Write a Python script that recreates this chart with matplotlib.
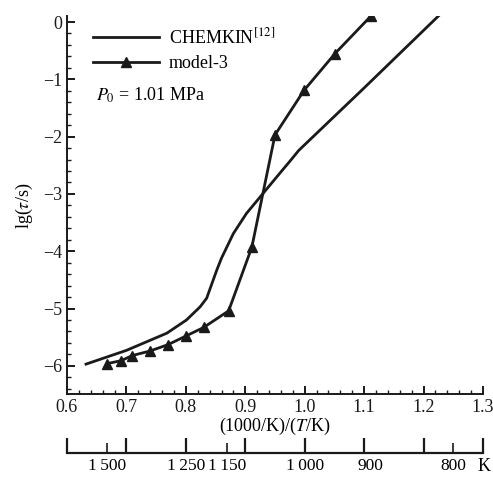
import numpy as np
import matplotlib.pyplot as plt
from matplotlib.ticker import MultipleLocator

plt.rcParams['font.family'] = ['Liberation Serif', 'DejaVu Serif']
plt.rcParams['mathtext.fontset'] = 'stix'

# CHEMKIN reference curve
chem_x = [0.632, 0.70, 0.768, 0.801, 0.824, 0.835, 0.852, 0.860, 0.880, 0.902, 0.930, 0.958, 0.975, 0.99, 1.10, 1.225]
chem_y = [-5.97, -5.73, -5.43, -5.20, -4.97, -4.82, -4.33, -4.12, -3.69, -3.34, -2.99, -2.64, -2.43, -2.24, -1.15, 0.105]

# model-3
mod_x = [0.668, 0.691, 0.710, 0.740, 0.770, 0.800, 0.830, 0.872, 0.911, 0.950, 0.999, 1.051, 1.111]
mod_y = [-5.96, -5.91, -5.82, -5.74, -5.63, -5.48, -5.33, -5.04, -3.93, -1.97, -1.19, -0.55, 0.10]

temps = [1500, 1250, 1150, 1000, 900, 800]
temp_labels = ['1\u2009500', '1\u2009250', '1\u2009150', '1\u2009000', '900', '800']
temp_minor = [1500, 1150, 800]

FS = 13

fig = plt.figure(figsize=(4.93, 4.78), dpi=100)
ax = fig.add_axes([0.1359, 0.1747, 0.8438, 0.7912])

ax.plot(chem_x, chem_y, color='#1a1a1a', lw=2.0, label=r'CHEMKIN$^{[12]}$')
ax.plot(mod_x, mod_y, color='#1a1a1a', lw=2.0, marker='^', ms=6.5, label='model-3')

ax.set_xlim(0.6, 1.3)
ax.set_ylim(-6.5, 0.1)
ax.xaxis.set_minor_locator(MultipleLocator(0.02))
ax.yaxis.set_minor_locator(MultipleLocator(0.2))
ax.set_xticks(np.arange(0.6, 1.31, 0.1), ['0.6', '0.7', '0.8', '0.9', '1.0', '1.1', '1.2', '1.3'])
ax.set_yticks([0, -1, -2, -3, -4, -5, -6], ['0', '\u22121', '\u22122', '\u22123', '\u22124', '\u22125', '\u22126'])
for s in ['top', 'right']:
    ax.spines[s].set_visible(False)
for s in ['left', 'bottom']:
    ax.spines[s].set_linewidth(1.4)
    ax.spines[s].set_color('#1a1a1a')
ax.tick_params(which='major', direction='in', length=6, width=1.4, labelsize=FS, colors='#1a1a1a')
ax.tick_params(which='minor', direction='in', length=3, width=1.0, colors='#1a1a1a')
ax.tick_params(axis='x', pad=3)
ax.set_xlabel(r'(1000/K)/($T$/K)', fontsize=FS, labelpad=0)
ax.set_ylabel(r'lg($\tau$/s)', fontsize=FS, labelpad=6)

ax.legend(loc='upper left', bbox_to_anchor=(0.032, 1.005), frameon=False, fontsize=FS,
          handlelength=3.65, numpoints=1, labelspacing=0.45, handletextpad=0.55, borderaxespad=0.3)
ax.text(0.07, 0.79, r'$P_0$ = 1.01 MPa', transform=ax.transAxes, fontsize=FS, va='center')

# temperature scale
ax2 = fig.add_axes([0.1359, 0.0523, 0.8438, 0.001])
ax2.set_xlim(0.6, 1.3)
ax2.set_ylim(0, 1)
for s in ['top', 'right', 'left']:
    ax2.spines[s].set_visible(False)
ax2.spines['bottom'].set_linewidth(1.6)
ax2.spines['bottom'].set_color('#1a1a1a')
ax2.set_yticks([])
ax2.set_xticks(np.arange(0.6, 1.31, 0.1), [''] * 8)
ax2.set_xticks([1000 / t for t in temp_minor], minor=True)
ax2.tick_params(which='major', direction='in', length=11, width=1.6, colors='#1a1a1a')
ax2.tick_params(which='minor', direction='in', length=7, width=1.2, colors='#1a1a1a')
ax2.tick_params(which='minor', labelbottom=False)
for t, lab in zip(temps, temp_labels):
    ax2.text(1000 / t, -10, lab, transform=ax2.get_xaxis_transform(), ha='center', va='top', fontsize=12.5)
ax2.text(1.302, -10, 'K', transform=ax2.get_xaxis_transform(), ha='center', va='top', fontsize=FS)
ax2.patch.set_visible(False)

fig.savefig('out.png', dpi=100)
